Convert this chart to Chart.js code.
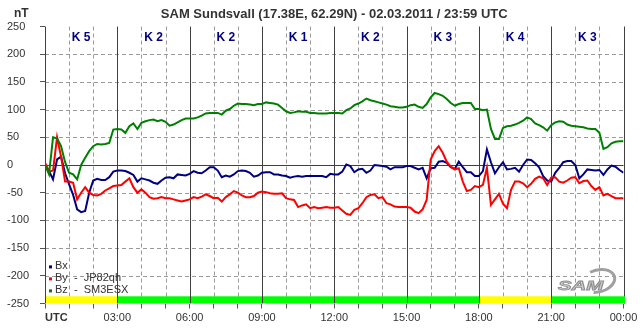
<!DOCTYPE html>
<html lang="en">
<head>
    <meta charset="UTF-8">
    <title>SAM Sundsvall magnetometer</title>
    <script src="https://cdn.jsdelivr.net/npm/chart.js"></script>
    <style>
        html, body { margin: 0; padding: 0; background: #fff; }
        canvas { display: block; }
    </style>
</head>
<body>
    <canvas id="samChart" width="643" height="331"></canvas>

    <script>
        // one sample every 10 minutes, 00:00 .. 24:00 UTC (nT)
        const stepMinutes = 10;

        const bx = [
            0, -11, -26, 10, 15, -15, -35, -54, -80, -85, -83, -50, -28, -25, -27, -27, -22, -12, -10, -10, -11, -14, -18, -30, -24, -26, -28, -32, -34, -28, -23,
            -22, -24, -17, -18, -19, -16, -11, -14, -15, -10, -4, -4, -10, -22, -19, -21, -17, -11, -10, -11, -14, -21, -19, -14, -13, -13, -17, -17, -19, -20,
            -23, -21, -20, -21, -20, -20, -20, -20, -20, -22, -16, -17, -17, -12, 1, -2, -13, -8, -7, -14, -10, 0, -1, -2, -3, -8, -4, -4, -4, -2,
            -2, -5, -8, -5, -24, -6, -5, 6, 7, 4, -4, -7, 6, -4, -13, -13, -20, -20, -11, 28, 5, -15, -4, 5, -8, -7, -5, -12, 0, 10,
            9, 3, -4, -20, -28, -30, -14, -5, 5, 7, 7, 0, -24, -17, -8, -9, -10, -9, -18, -8, -1, -3, -9, -14
        ];
        const by = [
            4, -12, -10, 50, 15, -30, -30, -32, -62, -50, -40, -50, -54, -55, -52, -46, -42, -38, -37, -36, -30, -24, -40, -50, -44, -50, -58, -61, -60, -58, -60,
            -60, -62, -64, -66, -64, -62, -58, -60, -57, -53, -56, -60, -59, -66, -58, -53, -47, -50, -55, -58, -58, -56, -50, -48, -49, -51, -52, -52, -51, -60,
            -62, -63, -76, -73, -71, -78, -76, -78, -77, -76, -77, -77, -76, -82, -88, -90, -81, -78, -69, -58, -54, -53, -60, -58, -69, -71, -75, -76, -76, -76,
            -77, -84, -87, -80, -63, 10, 25, 34, 22, 6, -3, -8, -6, -30, -47, -45, -38, -40, -36, -5, -72, -62, -52, -70, -78, -45, -30, -30, -33, -40,
            -34, -25, -21, -24, -36, -23, -22, -30, -32, -28, -23, -22, -33, -29, -28, -38, -45, -40, -55, -52, -56, -60, -60, -60
        ];
        const bz = [
            0, -17, 50, 48, 34, 5, -14, -17, -26, 0, 13, 25, 34, 38, 37, 38, 40, 64, 65, 64, 58, 70, 75, 65, 76, 79, 81, 82, 79, 81, 78,
            71, 73, 77, 81, 84, 84, 84, 86, 89, 93, 94, 94, 94, 91, 98, 101, 107, 111, 110, 110, 109, 108, 110, 110, 113, 112, 111, 109, 103, 97,
            94, 95, 97, 96, 96, 94, 94, 93, 93, 93, 94, 94, 94, 93, 99, 102, 108, 111, 115, 120, 117, 115, 113, 111, 109, 106, 105, 104, 104, 105,
            108, 109, 105, 103, 110, 122, 130, 128, 125, 119, 112, 107, 110, 112, 112, 112, 101, 101, 99, 100, 65, 47, 47, 67, 70, 71, 73, 76, 80, 86,
            83, 75, 72, 68, 62, 72, 77, 79, 78, 73, 71, 70, 69, 68, 66, 65, 65, 58, 29, 32, 39, 42, 43, 43
        ];

        // K index for each 3-hour block
        const kIndex = [5, 2, 2, 1, 2, 3, 4, 3];

        const xTickLabels = ['UTC', '03:00', '06:00', '09:00', '12:00', '15:00', '18:00', '21:00', '00:00'];
        const yTicks = [250, 200, 150, 100, 50, 0, -50, -100, -150, -200, -250];

        const seriesNames = ['Bx', 'By  -  JP82qh', 'Bz  -  SM3ESX'];
        const seriesColors = ['#000080', '#ff0000', '#008000'];

        const titleText = 'SAM Sundsvall (17.38E, 62.29N) - 02.03.2011 / 23:59 UTC';
        const FONT = "'Liberation Sans', Arial, sans-serif";

        const toPoints = arr => arr.map((v, i) => ({ x: i * stepMinutes / 60, y: v }));

        function hline(ctx, x0, x1, y) {
            ctx.beginPath(); ctx.moveTo(x0, y); ctx.lineTo(x1, y); ctx.stroke();
        }
        function vline(ctx, x, y0, y1) {
            ctx.beginPath(); ctx.moveTo(x, y0); ctx.lineTo(x, y1); ctx.stroke();
        }

        // grid, zero line and K colour bar
        const gridPlugin = {
            id: 'samGrid',
            beforeDatasetsDraw(chart) {
                const { ctx, chartArea: a, scales: { x, y } } = chart;
                ctx.save();
                ctx.lineWidth = 1;

                ctx.strokeStyle = '#9a9a9a';
                ctx.setLineDash([4, 3]);
                yTicks.forEach(v => {
                    if (v === 0 || Math.abs(v) === 250) return;
                    hline(ctx, a.left, a.right, Math.round(y.getPixelForValue(v)) + 0.5);
                });
                for (let h = 1; h < 24; h++) {
                    if (h % 3 === 0) continue;
                    vline(ctx, Math.round(x.getPixelForValue(h)) + 0.5, a.top, a.bottom);
                }

                ctx.setLineDash([]);
                ctx.strokeStyle = '#404040';
                for (let h = 0; h <= 24; h += 3) {
                    vline(ctx, Math.round(x.getPixelForValue(h)) + 0.5, a.top, a.bottom);
                }
                hline(ctx, a.left, a.right, Math.round(y.getPixelForValue(0)) + 0.5);

                const barTop = y.getPixelForValue(-237);
                const barBottom = y.getPixelForValue(-250);
                kIndex.forEach((k, i) => {
                    const x0 = Math.round(x.getPixelForValue(i * 3)) + 1;
                    const x1 = Math.round(x.getPixelForValue(i * 3 + 3));
                    ctx.fillStyle = k >= 4 ? '#ffff00' : '#00ff00';
                    ctx.fillRect(x0, barTop, x1 - x0 + (i === kIndex.length - 1 ? 1 : 0), barBottom - barTop);
                });
                ctx.restore();
            },
            afterDatasetsDraw(chart) {
                const { ctx, chartArea: a, scales: { x, y } } = chart;
                ctx.save();

                // K labels
                ctx.font = 'bold 12px ' + FONT;
                ctx.fillStyle = '#000080';
                ctx.textAlign = 'center';
                ctx.textBaseline = 'middle';
                kIndex.forEach((k, i) => {
                    ctx.fillText('K ' + k, x.getPixelForValue(i * 3 + 1.5), a.top + 11);
                });

                // legend
                ctx.font = '11px ' + FONT;
                ctx.textAlign = 'left';
                seriesNames.forEach((name, i) => {
                    const ly = y.getPixelForValue(-183) + i * 12;
                    ctx.fillStyle = seriesColors[i];
                    ctx.fillRect(a.left + 4, ly - 1, 3, 3);
                    ctx.fillStyle = '#333';
                    ctx.fillText(name, a.left + 10, ly);
                });

                // SAM logo
                ctx.save();
                ctx.translate(558, 287);
                ctx.scale(1.7, 1);
                ctx.font = 'italic bold 12px ' + FONT;
                ctx.fillStyle = '#d0d0d0';
                ctx.strokeStyle = '#909090';
                ctx.lineWidth = 0.8;
                ctx.fillText('SAM', 0, 0);
                ctx.strokeText('SAM', 0, 0);
                ctx.restore();
                ctx.strokeStyle = '#a0a0a0';
                ctx.lineWidth = 3;
                ctx.beginPath();
                ctx.ellipse(598, 281, 17, 11, -0.25, -1.9, 2.0);
                ctx.stroke();

                ctx.restore();
            },
            afterDraw(chart) {
                const { ctx, chartArea: a } = chart;
                ctx.save();
                ctx.fillStyle = '#333';
                ctx.textBaseline = 'middle';
                ctx.font = 'bold 13px ' + FONT;
                ctx.textAlign = 'center';
                ctx.fillText(titleText, (a.left + a.right) / 2, 14);
                ctx.font = 'bold 12px ' + FONT;
                ctx.textAlign = 'left';
                ctx.fillText('nT', 14, 14);
                ctx.font = 'bold 11px ' + FONT;
                ctx.fillText(xTickLabels[0], a.left, 318);
                ctx.restore();
            }
        };

        Chart.defaults.font.family = FONT;
        Chart.defaults.font.size = 11;
        Chart.defaults.color = '#333';

        new Chart(document.getElementById('samChart').getContext('2d'), {
            type: 'line',
            data: {
                datasets: [bx, by, bz].map((arr, i) => ({
                    label: seriesNames[i],
                    data: toPoints(arr),
                    borderColor: seriesColors[i],
                    borderWidth: 2,
                    pointRadius: 0,
                    tension: 0,
                    fill: false,
                    order: 2 - i
                }))
            },
            options: {
                responsive: false,
                animation: false,
                devicePixelRatio: 1,
                events: [],
                layout: { padding: { left: 7, right: 19.5, top: 26.5, bottom: 0 } },
                plugins: { legend: { display: false }, tooltip: { enabled: false } },
                scales: {
                    x: {
                        type: 'linear',
                        min: 0,
                        max: 24,
                        afterFit: s => { s.height = 27.5; },
                        border: { display: false },
                        grid: { drawOnChartArea: false, drawTicks: true, tickLength: 5, color: '#555' },
                        ticks: {
                            stepSize: 1,
                            autoSkip: false,
                            maxRotation: 0,
                            padding: 3,
                            callback: v => (v % 3 === 0 && v > 0) ? xTickLabels[v / 3] : ''
                        }
                    },
                    y: {
                        min: -250,
                        max: 250,
                        afterFit: s => { s.width = 38; },
                        border: { display: false },
                        grid: { drawOnChartArea: false, drawTicks: true, tickLength: 5, color: '#555' },
                        ticks: { stepSize: 50, crossAlign: 'far', padding: 0 }
                    }
                }
            },
            plugins: [gridPlugin]
        });
    </script>
</body>
</html>
